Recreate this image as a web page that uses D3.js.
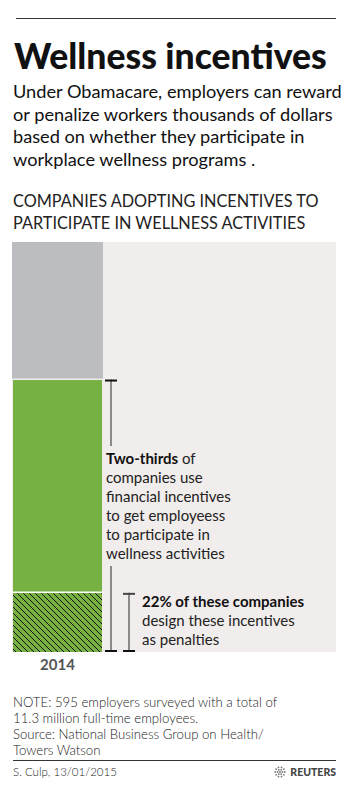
<!DOCTYPE html>
<html>
<head>
<meta charset="utf-8">
<script src="https://cdn.jsdelivr.net/npm/d3@7"></script>
<style>
  body { margin: 0; background: #fff; }
  svg { display: block; font-family: Lato, "Noto Sans", sans-serif; }
</style>
</head>
<body>
<svg id="wellness_viz"></svg>
<script>
// Chart data
var years = ["2014"];
var incentiveShare = 66.7;        // "two-thirds" of companies use incentives
var penaltyShareOfIncentive = 22; // 22% of those design them as penalties
var axisMax = 100;

var subtitleLines = [
    "Under Obamacare, employers can reward",
    "or penalize workers thousands of dollars",
    "based on whether they participate in",
    "workplace wellness programs ."
];
var headingLines = [
    "COMPANIES ADOPTING INCENTIVES TO",
    "PARTICIPATE IN WELLNESS ACTIVITIES"
];
var noteLines = [
    "NOTE: 595 employers surveyed with a total of",
    "11.3 million full-time employees.",
    "Source: National Business Group on Health/",
    "Towers Watson"
];

/*
 * Global object with dimension data for rendering
 */
const dims = {
    width: 350,
    height: 785,
    panelLeft: 12,
    panelRight: 336,
    panelTop: 242,
    panelBottom: 652,
    barRight: 103
};

function chart(id) {
    const svg = d3.select('#' + id)
        .attr("width", dims.width)
        .attr("height", dims.height);

    // Hatch pattern for the penalty segment
    const pat = svg.append("defs").append("pattern")
        .attr("id", "hatch")
        .attr("patternUnits", "userSpaceOnUse")
        .attr("width", 6)
        .attr("height", 6);
    pat.append("rect").attr("width", 6).attr("height", 6).attr("fill", "#78b143");
    pat.append("path")
        .attr("d", "M0,0 L6,6 M-3,3 L0,6 M3,-3 L9,3")
        .attr("stroke", "#111")
        .attr("stroke-width", 1);

    // Top rule
    svg.append("line")
        .attr("x1", 16).attr("x2", 336)
        .attr("y1", 18.5).attr("y2", 18.5)
        .attr("stroke", "#333").attr("stroke-width", 1);

    // Title
    svg.append("text")
        .attr("x", 14).attr("y", 69)
        .style("font-size", "35.5px")
        .style("font-weight", 900)
        .attr("fill", "#111")
        .text("Wellness incentives");

    // Subtitle
    svg.append("g").selectAll("text")
        .data(subtitleLines)
        .join("text")
        .attr("x", 13)
        .attr("y", (d, i) => 98 + i * 22.5)
        .style("font-size", "18.2px")
        .attr("fill", "#111")
        .text(d => d);

    // Chart heading
    svg.append("g").selectAll("text")
        .data(headingLines)
        .join("text")
        .attr("x", 13)
        .attr("y", (d, i) => 207 + i * 21.5)
        .style("font-size", "16.3px")
        .style("font-weight", 400)
        .attr("fill", "#222")
        .text(d => d);

    // Scales
    let x = d3.scaleBand()
        .domain(years)
        .range([dims.panelLeft, dims.barRight]);

    let y = d3.scaleLinear()
        .domain([0, axisMax])
        .range([dims.panelBottom, dims.panelTop]);

    // Background panel
    svg.append("rect")
        .attr("x", dims.panelLeft).attr("y", dims.panelTop)
        .attr("width", dims.panelRight - dims.panelLeft)
        .attr("height", dims.panelBottom - dims.panelTop)
        .attr("fill", "#f1edec");

    const penaltyShare = incentiveShare * penaltyShareOfIncentive / 100;
    const segments = [
        { y0: incentiveShare, y1: axisMax, fill: "#bcbdc0", inset: 0 },
        { y0: 0, y1: incentiveShare, fill: "#78b143", inset: 1 },
        { y0: 0, y1: penaltyShare, fill: "url(#hatch)", inset: 1 }
    ];

    // Stacked bar segments
    svg.append("g").selectAll("rect")
        .data(segments)
        .join("rect")
        .attr("x", d => x(years[0]) + d.inset)
        .attr("width", d => x.bandwidth() - d.inset * 2)
        .attr("y", d => y(d.y1) + (d.inset ? 1.5 : 0))
        .attr("height", d => y(d.y0) - y(d.y1) - (d.inset ? 1.5 : 0))
        .attr("fill", d => d.fill);

    // White separator between green and hatched parts
    svg.append("line")
        .attr("x1", x(years[0])).attr("x2", x(years[0]) + x.bandwidth())
        .attr("y1", y(penaltyShare) + 0.5).attr("y2", y(penaltyShare) + 0.5)
        .attr("stroke", "#fff").attr("stroke-width", 1.5);

    // Year label
    svg.append("text")
        .attr("x", x(years[0]) + x.bandwidth() / 2)
        .attr("y", 670)
        .attr("text-anchor", "middle")
        .style("font-size", "15px")
        .style("font-weight", 700)
        .attr("fill", "#555")
        .text(years[0]);

    // Bracket helper
    function bracket(bx, top, bottom, gapTop, gapBottom, topCapColor) {
        const g = svg.append("g");
        const spans = gapTop == null ? [[top, bottom]] : [[top, gapTop], [gapBottom, bottom]];
        spans.forEach(s => g.append("line")
            .attr("x1", bx).attr("x2", bx)
            .attr("y1", s[0]).attr("y2", s[1])
            .attr("stroke", "#8a8a8a").attr("stroke-width", 2));
        g.append("line")
            .attr("x1", bx - 6).attr("x2", bx + 6)
            .attr("y1", top + 1).attr("y2", top + 1)
            .attr("stroke", topCapColor).attr("stroke-width", 2);
        g.append("line")
            .attr("x1", bx - 6).attr("x2", bx + 6)
            .attr("y1", bottom - 1).attr("y2", bottom - 1)
            .attr("stroke", "#111").attr("stroke-width", 2);
    }

    bracket(111, y(incentiveShare) + 1, y(0), 446, 566, "#111");
    bracket(129, y(penaltyShare) + 1, y(0), null, null, "#444");

    // Annotation 1
    const a1 = svg.append("text")
        .style("font-size", "15px")
        .attr("fill", "#222");
    const a1Lines = ["companies use", "financial incentives", "to get employeess",
        "to participate in", "wellness activities"];
    a1.append("tspan").attr("x", 106).attr("y", 464)
        .style("font-weight", 700).attr("fill", "#111").text("Two-thirds");
    a1.append("tspan").text(" of");
    a1Lines.forEach((t, i) => a1.append("tspan")
        .attr("x", 106).attr("y", 483 + i * 19).text(t));

    // Annotation 2
    const a2 = svg.append("text")
        .style("font-size", "15px")
        .attr("fill", "#222");
    a2.append("tspan").attr("x", 142).attr("y", 607)
        .style("font-weight", 700).attr("fill", "#111")
        .text(penaltyShareOfIncentive + "% of these companies");
    ["design these incentives", "as penalties"].forEach((t, i) => a2.append("tspan")
        .attr("x", 142).attr("y", 626 + i * 18.5).text(t));

    // Notes
    svg.append("g").selectAll("text")
        .data(noteLines)
        .join("text")
        .attr("x", 13)
        .attr("y", (d, i) => 707 + i * 16)
        .style("font-size", "13.2px")
        .style("font-weight", 300)
        .attr("fill", "#222")
        .text(d => d);

    // Bottom rule
    svg.append("line")
        .attr("x1", 13).attr("x2", 336)
        .attr("y1", 760.5).attr("y2", 760.5)
        .attr("stroke", "#333").attr("stroke-width", 1);

    svg.append("text")
        .attr("x", 13).attr("y", 776)
        .style("font-size", "11.5px")
        .style("font-weight", 300)
        .attr("fill", "#222")
        .text("S. Culp, 13/01/2015");

    // Reuters logo
    const logo = svg.append("g").attr("transform", "translate(280,772)");
    d3.range(3).forEach(r => {
        const n = [1, 6, 10][r];
        const rad = [0, 2.5, 4.8][r];
        d3.range(n).forEach(k => logo.append("circle")
            .attr("cx", rad * Math.cos(2 * Math.PI * k / n))
            .attr("cy", rad * Math.sin(2 * Math.PI * k / n))
            .attr("r", [1, 0.9, 0.9][r])
            .attr("fill", "#777"));
    });
    svg.append("text")
        .attr("x", 336).attr("y", 776)
        .attr("text-anchor", "end")
        .style("font-size", "10.5px")
        .style("font-weight", 900)
        .attr("fill", "#444")
        .text("REUTERS");
}

chart("wellness_viz");
</script>
</body>
</html>
